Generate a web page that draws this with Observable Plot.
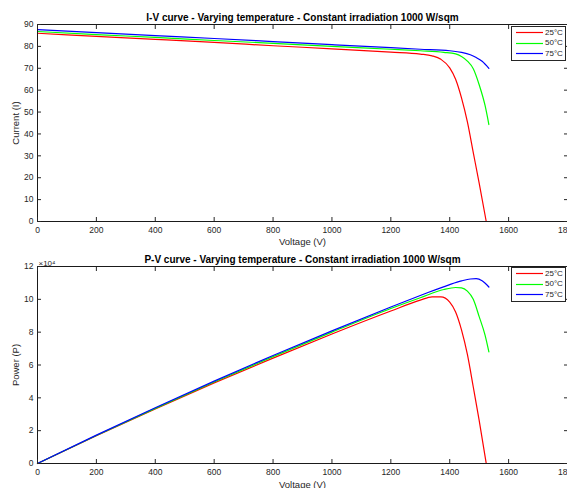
<!DOCTYPE html>
<html>
<head>
<meta charset="utf-8">
<script src="https://cdn.jsdelivr.net/npm/d3@7"></script>
<script src="https://cdn.jsdelivr.net/npm/@observablehq/plot@0.6"></script>
<style>
  html, body { margin: 0; padding: 0; background: #fff; overflow: hidden; }
  #wrap { position: relative; width: 567px; height: 488px; font-family: "Liberation Sans", Arial, sans-serif; }
  #wrap > svg { display: block; }
  .legend { position: absolute; left: 511px; width: 53px; height: 33px; background: #fff; border: 1px solid #262626; box-sizing: content-box; }
  .legend svg.sw { position: absolute; left: 4px; width: 27px; height: 3px; overflow: visible; }
  .legend .lb { position: absolute; left: 33px; font-size: 8px; line-height: 8px; color: #262626; white-space: nowrap; }
</style>
</head>
<body>
<div id="wrap"></div>
<script>
// ---- data ----
const temps = ["25°C", "50°C", "75°C"];
const colors = ["#ff0000", "#00ff00", "#0000ff"];

// Voltage samples (V) for each temperature
const volt25 = [0, 200, 400, 600, 800, 1000, 1200, 1300, 1340, 1370, 1400, 1420, 1440, 1460, 1480, 1500, 1524];
const volt50 = [0, 200, 400, 600, 800, 1000, 1200, 1300, 1380, 1420, 1440, 1460, 1480, 1500, 1520, 1533];
const volt75 = [0, 200, 400, 600, 800, 1000, 1200, 1300, 1400, 1440, 1470, 1490, 1510, 1533];

// Current (A)
const curr25 = [86.0, 84.6, 83.2, 81.8, 80.3, 78.9, 77.4, 76.5, 75.7, 74.1, 70.2, 65.0, 56.5, 45.5, 31.5, 17.5, 0];
const curr50 = [86.8, 85.4, 84.1, 82.7, 81.4, 80.0, 78.7, 78.0, 77.3, 76.6, 75.4, 73.3, 69.8, 62.5, 53.0, 44.3];
const curr75 = [87.7, 86.3, 84.9, 83.6, 82.2, 80.8, 79.4, 78.7, 78.0, 77.3, 76.2, 74.9, 73.2, 70.0];

// Power (x10^4 W)
const pow25 = [0, 1.69, 3.33, 4.91, 6.42, 7.89, 9.29, 9.95, 10.15, 10.15, 9.83, 9.23, 8.14, 6.64, 4.66, 2.63, 0];
const pow50 = [0, 1.71, 3.36, 4.96, 6.51, 8.0, 9.44, 10.1, 10.6, 10.72, 10.7, 10.5, 10.0, 8.95, 7.82, 6.8];
const pow75 = [0, 1.73, 3.40, 5.02, 6.58, 8.08, 9.53, 10.23, 10.9, 11.12, 11.24, 11.26, 11.13, 10.75];

const xTicks = [0, 200, 400, 600, 800, 1000, 1200, 1400, 1600, 1800];
const iTicks = [0, 10, 20, 30, 40, 50, 60, 70, 80, 90];
const pTicks = [0, 2, 4, 6, 8, 10, 12];

const titles = [
  "I-V curve - Varying temperature - Constant irradiation 1000 W/sqm",
  "P-V curve - Varying temperature - Constant irradiation 1000 W/sqm"
];
const xLabel = "Voltage (V)";
const yLabels = ["Current (I)", "Power (P)"];
const expLabel = "×10⁴";

// ---- tables ----
const volts = [volt25, volt50, volt75];
const currs = [curr25, curr50, curr75];
const pows = [pow25, pow50, pow75];
const ivRows = temps.flatMap((t, k) => volts[k].map((v, j) => ({v, y: currs[k][j], t})));
const pvRows = temps.flatMap((t, k) => volts[k].map((v, j) => ({v, y: pows[k][j], t})));

const FONT = '"Liberation Sans", Arial, sans-serif';
const fmt = d => String(d);

function panel(rows, yDomain, yTicks, title, yLabel, opts) {
  const extra = opts.extra || [];
  return Plot.plot({
    width: 567,
    height: opts.height,
    marginLeft: 37,
    marginRight: 0,
    marginTop: opts.marginTop,
    marginBottom: opts.marginBottom,
    style: {fontFamily: FONT, fontSize: "8.5px", color: "#262626", background: "white", overflow: "visible"},
    x: {domain: [0, 1800]},
    y: {domain: yDomain},
    color: {domain: temps, range: colors},
    marks: [
      Plot.line(rows, {x: "v", y: "y", stroke: "t", strokeWidth: 1.2, curve: "monotone-x"}),
      Plot.frame({stroke: "#1a1a1a"}),
      Plot.axisX({ticks: xTicks, tickSize: -4, text: null, label: null}),
      Plot.axisX({anchor: "top", ticks: xTicks, tickSize: -4, text: null, label: null}),
      Plot.axisX({ticks: xTicks, tickSize: 0, tickPadding: 5, tickFormat: fmt, label: null}),
      Plot.axisY({ticks: yTicks, tickSize: -4, text: null, label: null}),
      Plot.axisY({anchor: "right", ticks: yTicks, tickSize: -4, text: null, label: null}),
      Plot.axisY({ticks: yTicks, tickSize: 0, tickPadding: 4, tickFormat: fmt, label: null}),
      Plot.text([title], {frameAnchor: "top", dy: -7, lineAnchor: "middle", textAnchor: "middle", fontWeight: "bold", fontSize: 10, fill: "#000"}),
      Plot.text([xLabel], {frameAnchor: "bottom", dy: opts.xLabelDy, lineAnchor: "middle", textAnchor: "middle", fontSize: 9.5, fill: "#262626"}),
      Plot.text([yLabel], {frameAnchor: "left", dx: -22, rotate: -90, lineAnchor: "middle", textAnchor: "middle", fontSize: 9.5, fill: "#262626"}),
      ...extra
    ]
  });
}

const wrap = document.getElementById("wrap");
wrap.appendChild(panel(ivRows, [0, 90], iTicks, titles[0], yLabels[0],
  {height: 245, marginTop: 24, marginBottom: 24, xLabelDy: 20.5}));
wrap.appendChild(panel(pvRows, [0, 12], pTicks, titles[1], yLabels[1],
  {height: 243, marginTop: 21, marginBottom: 25, xLabelDy: 21,
   extra: [Plot.text([expLabel], {frameAnchor: "top-left", dx: 1, dy: -1, textAnchor: "start", lineAnchor: "bottom", fontSize: 8, fill: "#262626"})]}));

function legend(top) {
  const box = document.createElement("div");
  box.className = "legend";
  box.style.top = top + "px";
  const ns = "http://www.w3.org/2000/svg";
  temps.forEach((t, k) => {
    const sw = document.createElementNS(ns, "svg");
    sw.setAttribute("class", "sw");
    sw.style.top = (4 + 10.5 * k) + "px";
    const ln = document.createElementNS(ns, "line");
    ln.setAttribute("x1", 0); ln.setAttribute("x2", 27);
    ln.setAttribute("y1", 1.5); ln.setAttribute("y2", 1.5);
    ln.setAttribute("stroke", colors[k]);
    ln.setAttribute("stroke-width", 1.2);
    sw.appendChild(ln);
    box.appendChild(sw);
    const lb = document.createElement("div");
    lb.className = "lb";
    lb.textContent = t;
    lb.style.top = (1.5 + 10.5 * k) + "px";
    box.appendChild(lb);
  });
  wrap.appendChild(box);
}
legend(26);
legend(267);
</script>
</body>
</html>
